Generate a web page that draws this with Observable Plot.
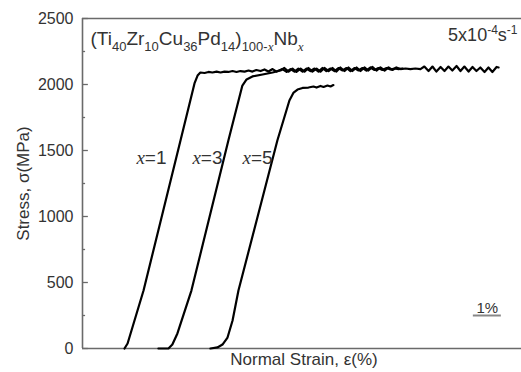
<!DOCTYPE html>
<html><head><meta charset="utf-8">
<script src="https://cdn.jsdelivr.net/npm/d3@7"></script>
<script src="https://cdn.jsdelivr.net/npm/@observablehq/plot@0.6"></script>
<style>body{margin:0;background:#fff}</style>
</head><body><div id="chart"></div>
<script>
// strain (%, arbitrary offset per curve) and stress (MPa)
const strainX1 = [1.50,1.61,1.75,2.18,3.50,4.00,4.11,4.21,4.36,4.50,4.64,4.79,4.93,5.07,5.21,5.36,5.50,5.64,5.79,5.93,6.07,6.21,6.36,6.50,6.64,6.79,6.93,7.14,7.29,7.43,7.57,7.71,7.86,8.00,8.14,8.29,8.43,8.57,8.71,8.86,9.00,9.14,9.29,9.43,9.57,9.71,9.86,10.00,10.14,10.29,10.43,10.57,10.71,10.86,11.00,11.14,11.29,11.43];
const stressX1 = [0,38,136,439,1576,2008,2068,2091,2087,2095,2091,2098,2091,2098,2095,2102,2095,2102,2098,2106,2098,2110,2102,2114,2098,2117,2098,2117,2095,2117,2098,2121,2098,2121,2102,2121,2098,2125,2102,2121,2102,2125,2106,2125,2102,2125,2106,2125,2106,2129,2110,2125,2110,2125,2114,2121,2117,2121];

const strainX3 = [2.71,3.07,3.21,3.39,3.89,5.21,5.71,5.86,6.07,6.43,6.79,7.07,7.21,7.36,7.50,7.64,7.79,7.93,8.07,8.21,8.36,8.50,8.64,8.79,8.93,9.07,9.21,9.36,9.50,9.64,9.79,9.93,10.07,10.21,10.36,10.50,10.64,10.79,10.93,11.07,11.21,11.36,11.54,11.71,11.89,12.07,12.21,12.36,12.50,12.64,12.79,12.93,13.07,13.21,13.36,13.50,13.64,13.79,13.93,14.07,14.21,14.36,14.50,14.64,14.79,14.86];
const stressX3 = [0,0,30,114,439,1576,1992,2038,2061,2076,2091,2106,2125,2098,2121,2095,2121,2098,2125,2098,2121,2098,2125,2102,2125,2098,2129,2102,2129,2102,2129,2102,2129,2106,2133,2106,2129,2106,2129,2110,2129,2117,2121,2117,2121,2117,2136,2102,2136,2098,2133,2102,2136,2106,2140,2102,2136,2098,2133,2102,2129,2095,2129,2095,2133,2129];

const strainX5 = [4.57,4.82,5.00,5.18,5.36,5.57,6.96,7.39,7.54,7.68,7.86,8.07,8.25,8.36,8.50,8.61,8.75,8.86,8.96];
const stressX5 = [0,8,30,83,212,439,1576,1879,1939,1962,1974,1977,1985,1977,1989,1981,1992,1985,1996];

const seriesNames = ["x=1","x=3","x=5"];
const labelStrain = [3.0, 5.0, 6.79];
const labelStress = [1447, 1447, 1447];

const yTicks = [0,500,1000,1500,2000,2500];
const yMinor = [250,750,1250,1750,2250];
const scaleBarStart = 13.96, scaleBarLength = 1, scaleBarStress = 250, scaleBarText = "1%";

const rows = [];
[[strainX1,stressX1,"x=1"],[strainX3,stressX3,"x=3"],[strainX5,stressX5,"x=5"]].forEach(([xs,ys,n]) =>
  xs.forEach((s,i) => rows.push({strain: s, stress: ys[i], series: n})));
const labels = seriesNames.map((n,i) => ({name: n, strain: labelStrain[i], stress: labelStress[i]}));

const TXT = "#333";
const AX = "#6a6a6a";
const font = "Liberation Sans, Arial, sans-serif";

const chart = Plot.plot({
  width: 521, height: 372,
  marginLeft: 82, marginRight: 0, marginTop: 18, marginBottom: 24,
  style: {fontFamily: font, background: "#fff"},
  x: {domain: [0, 15.68], axis: null},
  y: {domain: [0, 2500]},
  marks: [
    Plot.axisY(yTicks, {tickSize: 0, tickPadding: 9, fontSize: 16, fill: TXT, label: null, tickFormat: d => String(d)}),
    Plot.ruleY(yTicks, {x1: 0, x2: 0.21, stroke: AX, strokeWidth: 1.3}),
    Plot.ruleY(yMinor, {x1: 0, x2: 0.11, stroke: AX, strokeWidth: 1.3}),
    Plot.ruleY([2500], {stroke: AX, strokeWidth: 1.6}),
    Plot.ruleY([0], {stroke: AX, strokeWidth: 1.6}),
    Plot.ruleX([0], {y1: 0, y2: 2500, stroke: AX, strokeWidth: 1.6}),
    Plot.line(rows, {x: "strain", y: "stress", z: "series", stroke: "#000", strokeWidth: 2.2, curve: "linear"}),
    Plot.text(labels, {x: "strain", y: "stress", text: "name", textAnchor: "end", fontSize: 19, fill: TXT, className: "serlbl"}),
    Plot.ruleY([scaleBarStress], {x1: scaleBarStart, x2: scaleBarStart + scaleBarLength, stroke: "#888", strokeWidth: 2}),
    Plot.text([scaleBarText], {x: scaleBarStart + scaleBarLength/2, y: 307, fontSize: 15, fill: TXT}),
    Plot.text(["(Ti40Zr10Cu36Pd14)100-xNbx"], {frameAnchor: "top-left", dx: 8, dy: 20, textAnchor: "start", lineAnchor: "middle", fontSize: 19, fill: TXT, className: "title"}),
    Plot.text(["5x10-4s-1"], {frameAnchor: "top-right", dx: -4, dy: 17, textAnchor: "end", lineAnchor: "middle", fontSize: 18, fill: TXT, className: "rate"}),
    Plot.text(["Stress, σ(MPa)"], {x: -2.1, y: 1250, rotate: -90, fontSize: 17, fill: TXT}),
    Plot.text(["Normal Strain, ε(%)"], {frameAnchor: "bottom", dx: 2, dy: 16, fontSize: 17, fill: TXT})
  ]
});

const NS = "http://www.w3.org/2000/svg";
function rich(node, parts, small) {
  node.textContent = "";
  let shift = 0;
  for (const [s, kind] of parts) {
    const t = document.createElementNS(NS, "tspan");
    const target = kind.includes("sub") ? 6 : kind.includes("sup") ? -7 : 0;
    if (target !== shift) t.setAttribute("dy", target - shift);
    shift = target;
    if (target !== 0) t.setAttribute("font-size", small);
    if (kind.includes("it")) { t.setAttribute("font-style", "italic"); t.setAttribute("font-family", "Liberation Serif, Times New Roman, serif"); }
    t.textContent = s;
    node.appendChild(t);
  }
}
chart.querySelectorAll("g.title text").forEach(n => rich(n, [["(Ti",""],["40","sub"],["Zr",""],["10","sub"],["Cu",""],["36","sub"],["Pd",""],["14","sub"],[")",""],["100-","sub"],["x","subit"],["Nb",""],["x","subit"]], 13));
chart.querySelectorAll("g.rate text").forEach(n => rich(n, [["5x10",""],["-4","sup"],["s",""],["-1","sup"]], 12));
chart.querySelectorAll("g.serlbl text").forEach(n => { const v = n.textContent; rich(n, [["x","it"],[v.slice(1),""]], 12); });

document.getElementById("chart").appendChild(chart);
</script>
</body></html>
